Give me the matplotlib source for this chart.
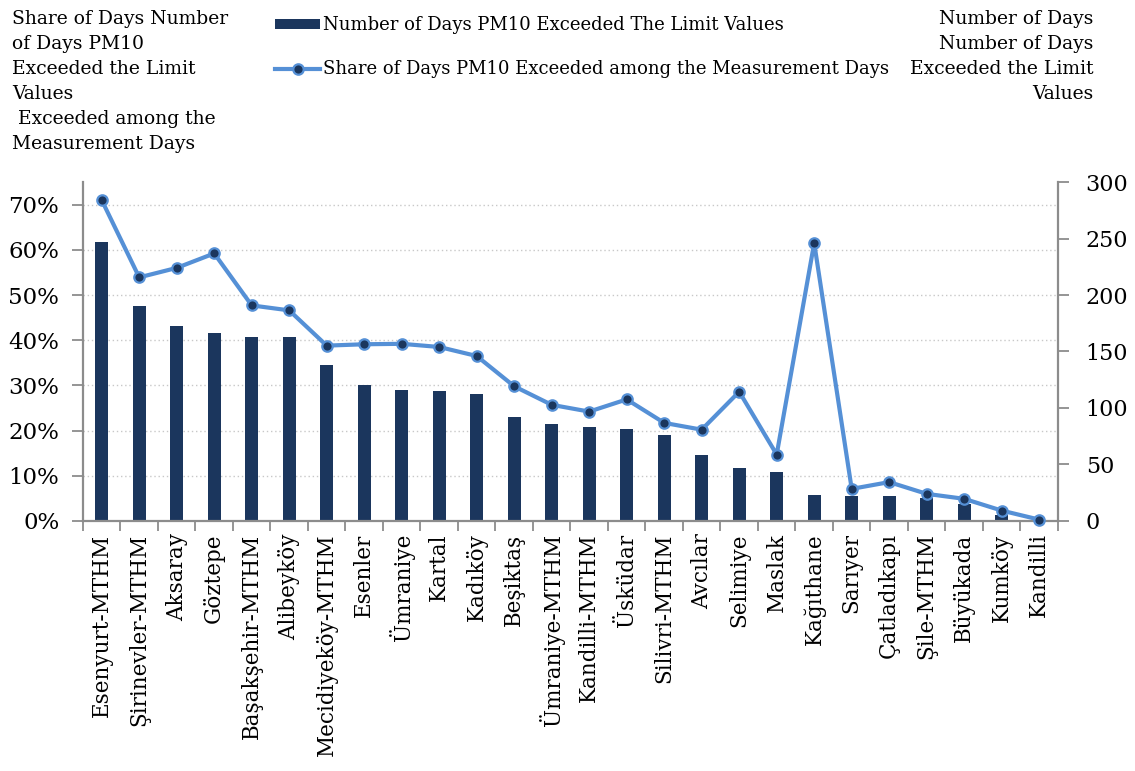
import matplotlib
matplotlib.use("Agg")
import matplotlib.pyplot as plt
from matplotlib.ticker import FuncFormatter, MultipleLocator

# ------------------------------------------------------
# Data
# ------------------------------------------------------
stations = [
    "Esenyurt-MTHM", "Şirinevler-MTHM", "Aksaray", "Göztepe", "Başakşehir-MTHM",
    "Alibeyköy", "Mecidiyeköy-MTHM", "Esenler", "Ümraniye", "Kartal", "Kadıköy",
    "Beşiktaş", "Ümraniye-MTHM", "Kandilli-MTHM", "Üsküdar", "Silivri-MTHM",
    "Avcılar", "Selimiye", "Maslak", "Kağıthane", "Sarıyer", "Çatladıkapı",
    "Şile-MTHM", "Büyükada", "Kumköy", "Kandilli",
]
days_exceeded = [247, 190, 173, 166, 163, 163, 138, 120, 116, 115, 112, 92, 86,
                 83, 81, 76, 58, 47, 43, 23, 22, 22, 20, 15, 5, 1]
share_exceeded = [71.0, 53.9, 56.0, 59.2, 47.7, 46.6, 38.8, 39.1, 39.2, 38.5, 36.5,
                  29.8, 25.7, 24.2, 26.9, 21.7, 20.2, 28.6, 14.7, 61.5, 7.1, 8.6,
                  6.0, 4.9, 2.3, 0.3]

bar_label = "Number of Days PM10 Exceeded The Limit Values"
line_label = "Share of Days PM10 Exceeded among the Measurement Days"
left_title = ("Share of Days Number\nof Days PM10\nExceeded the Limit\nValues\n"
              " Exceeded among the\nMeasurement Days")
right_title = "Number of Days\nNumber of Days\nExceeded the Limit\nValues"

BAR_COLOR = "#1b365d"
LINE_COLOR = "#5590d6"
AXIS_GRAY = "#8c8c8c"

plt.rcParams["font.family"] = ["DejaVu Serif"]

fig = plt.figure(figsize=(11.35, 7.71), dpi=100)
ax = fig.add_axes([0.0731, 0.3243, 0.8590, 0.4396])
ax2 = ax.twinx()

x = list(range(len(stations)))

# bars on the right axis (days), line on the left axis (share)
ax.set_zorder(ax2.get_zorder() + 1)
ax.patch.set_visible(False)
ax2.bar(x, days_exceeded, width=0.35, color=BAR_COLOR, zorder=2)
ln, = ax.plot(x, share_exceeded, color=LINE_COLOR, lw=3.0,
              marker="o", ms=7.5, mfc=BAR_COLOR, mec=LINE_COLOR, mew=1.6,
              zorder=3, clip_on=False)

ax.set_xlim(-0.5, len(stations) - 0.5)
ax.set_ylim(0, 75)
ax2.set_ylim(0, 300)
ax.yaxis.set_major_locator(MultipleLocator(10))
ax.yaxis.set_major_formatter(FuncFormatter(lambda v, p: f"{v:.0f}%"))
ax2.yaxis.set_major_locator(MultipleLocator(50))

# dotted horizontal grid from the left axis
for v in range(10, 80, 10):
    ax2.axhline(v * 4, color="#c8c8c8", lw=1.0, ls=(0, (1, 2)), zorder=0)

ax.set_xticks(x)
ax.set_xticklabels(stations, rotation=90, fontsize=15.5)
ax.set_xticks([i + 0.5 for i in range(-1, len(stations))], minor=True)
ax.tick_params(axis="x", which="major", length=0, pad=9)
ax.tick_params(axis="x", which="minor", length=7, color=AXIS_GRAY, width=1.3)
ax.tick_params(axis="y", labelsize=16.5, length=8, color=AXIS_GRAY, width=1.3,
               pad=9)
ax2.tick_params(axis="y", labelsize=16, length=8, color=AXIS_GRAY, width=1.3,
                pad=12)

for a in (ax, ax2):
    a.spines["top"].set_visible(False)
    for s in ("left", "right", "bottom"):
        a.spines[s].set_color(AXIS_GRAY)
        a.spines[s].set_linewidth(1.6)
ax.spines["right"].set_visible(False)
ax2.spines["left"].set_visible(False)
ax2.spines["bottom"].set_visible(False)

# legend
bar_handle = ax2.patches[0]
fig.legend([bar_handle, ln], [bar_label, line_label],
           loc="upper left", bbox_to_anchor=(0.228, 1.0), frameon=False,
           fontsize=13, handlelength=2.5, handleheight=0.45,
           labelspacing=1.45, handletextpad=0.15)

fig.text(0.011, 0.987, left_title, ha="left", va="top", fontsize=13.5,
         linespacing=1.5)
fig.text(0.963, 0.987, right_title, ha="right", va="top", fontsize=13.5,
         linespacing=1.5)

fig.savefig("out.png", dpi=100)
